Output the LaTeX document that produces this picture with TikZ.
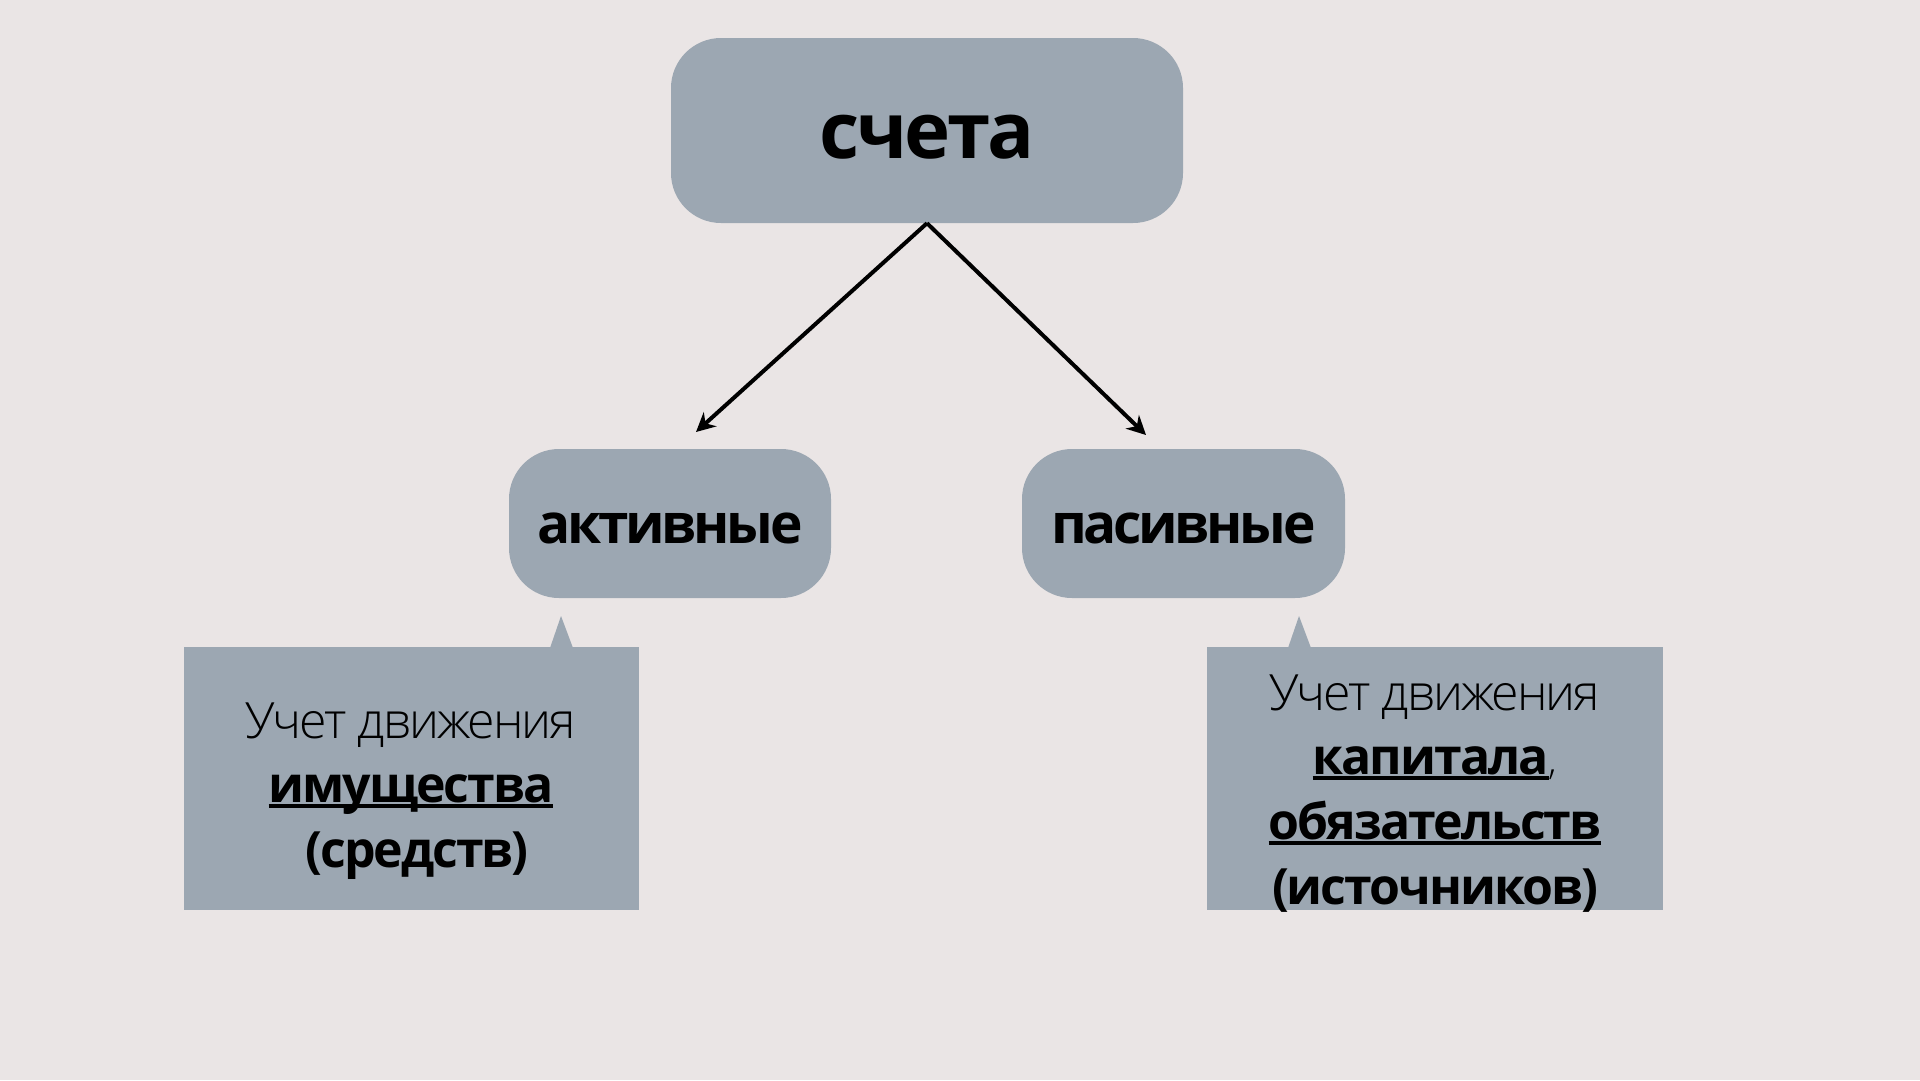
\documentclass[tikz,border=0pt]{standalone}
\usepackage{fontspec}
\setmainfont{Open Sans}
\IfFontExistsTF{Open Sans Light}{\newfontfamily\lightfont{Open Sans Light}}{\newfontfamily\lightfont{Open Sans}}
\usetikzlibrary{arrows.meta}
\definecolor{bgc}{RGB}{234,229,229}
\definecolor{boxc}{RGB}{156,167,178}
\newcommand\ulbar[1]{\setbox0\hbox{#1}\rlap{\rule[-0.11em]{\wd0}{0.065em}}\box0}
\tikzset{
  rbox/.style={fill=boxc, draw=none, rounded corners=50pt, inner sep=0pt, text depth=0pt},
  cbox/.style={fill=boxc, draw=none, inner sep=0pt},
  arr/.style={line width=4pt, -{Stealth[length=19pt,width=19pt]}},
  lt/.style={anchor=base, inner sep=0pt, font=\lightfont\fontsize{50}{60}\selectfont\addfontfeature{LetterSpace=-4}},
  bt/.style={anchor=base, inner sep=0pt, font=\bfseries\fontsize{50}{60}\selectfont\addfontfeature{LetterSpace=-4}},
}
\begin{document}
\begin{tikzpicture}[x=1pt,y=-1pt]
\fill[bgc] (0,0) rectangle (1920,1080);
\useasboundingbox (0,0) rectangle (1920,1080);
% top
\node[rbox, minimum width=512pt, minimum height=185pt, text height=56pt,
  font=\bfseries\fontsize{78}{90}\selectfont\addfontfeature{LetterSpace=-4}] (top) at (927,130.5) {счета};
\node[rbox, minimum width=322pt, minimum height=149pt, text height=40pt,
  font=\bfseries\fontsize{55}{66}\selectfont\addfontfeature{LetterSpace=-6}] (act) at (670,523.5) {активные};
\node[rbox, minimum width=323pt, minimum height=149pt, text height=40pt,
  font=\bfseries\fontsize{55}{66}\selectfont\addfontfeature{LetterSpace=-6}] (pas) at (1183.5,523.5) {пасивные};
\coordinate (la) at (696,432);
\coordinate (ra) at (1146,435);
\draw[arr] (top.south) -- (la);
\draw[arr] (top.south) -- (ra);
% left callout
\node[cbox, minimum width=455pt, minimum height=263pt] (cl) at (411.5,778.5) {};
\fill[boxc] (550,648) -- (561,616) -- (573,648) -- cycle;
\node[lt] (cl1) at (411,738) {Учет движения};
\node[bt] (cl2) at (411,802) {\ulbar{имущества}};
\node[bt] (cl3) at (417,867) {(средств)};
% right callout
\node[cbox, minimum width=456pt, minimum height=263pt] (cr) at (1435,778.5) {};
\fill[boxc] (1288,648) -- (1299,616) -- (1311,648) -- cycle;
\node[lt] (cr1) at (1435,710) {Учет движения};
\node[bt] (cr2) at (1435,774) {\ulbar{капитала}{\lightfont\mdseries\fontsize{40}{50}\selectfont ,}};
\node[bt] (cr3) at (1435,839) {\ulbar{обязательств}};
\node[bt] (cr4) at (1435,904) {(источников)};
\end{tikzpicture}
\end{document}
